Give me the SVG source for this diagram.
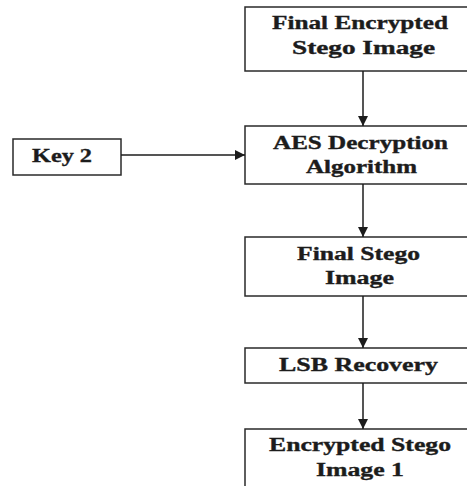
<svg xmlns="http://www.w3.org/2000/svg" width="467" height="486" viewBox="0 0 467 486">
  <style>
    .box { fill: #ffffff; stroke: #2a2a2a; stroke-width: 1.5; }
    .lbl { font-family: "Liberation Serif", "Times New Roman", serif; font-weight: bold; font-size: 18px; fill: #1c1c1c; stroke: #1c1c1c; stroke-width: 0.35; }
    .edge { stroke: #1c1c1c; stroke-width: 1.5; fill: none; marker-end: url(#head); }
  </style>
  <defs>
    <marker id="head" viewBox="0 0 10 10" refX="10" refY="5" markerWidth="10" markerHeight="10" markerUnits="userSpaceOnUse" orient="auto">
      <path d="M0,0 L10,5 L0,10 z" fill="#1c1c1c"/>
    </marker>
  </defs>
  <rect width="467" height="486" fill="#ffffff"/>

  <g id="final-encrypted-stego-image">
    <rect class="box" x="245" y="7" width="240" height="64"/>
    <text class="lbl" x="272" y="29" textLength="176" lengthAdjust="spacingAndGlyphs">Final Encrypted</text>
    <text class="lbl" x="292" y="54" textLength="143" lengthAdjust="spacingAndGlyphs">Stego Image</text>
  </g>

  <g id="key-2">
    <rect class="box" x="13" y="139" width="108" height="36"/>
    <text class="lbl" x="32" y="162" textLength="60" lengthAdjust="spacingAndGlyphs">Key 2</text>
  </g>

  <g id="aes-decryption">
    <rect class="box" x="245" y="126" width="240" height="58"/>
    <text class="lbl" x="273" y="149" textLength="175" lengthAdjust="spacingAndGlyphs">AES Decryption</text>
    <text class="lbl" x="306" y="173" textLength="111" lengthAdjust="spacingAndGlyphs">Algorithm</text>
  </g>

  <g id="final-stego-image">
    <rect class="box" x="245" y="237" width="240" height="59"/>
    <text class="lbl" x="297" y="260" textLength="123" lengthAdjust="spacingAndGlyphs">Final Stego</text>
    <text class="lbl" x="325" y="284" textLength="69" lengthAdjust="spacingAndGlyphs">Image</text>
  </g>

  <g id="lsb-recovery">
    <rect class="box" x="245" y="348" width="240" height="35"/>
    <text class="lbl" x="279" y="371" textLength="159" lengthAdjust="spacingAndGlyphs">LSB Recovery</text>
  </g>

  <g id="encrypted-stego-image-1">
    <rect class="box" x="245" y="429" width="240" height="70"/>
    <text class="lbl" x="269" y="451" textLength="182" lengthAdjust="spacingAndGlyphs">Encrypted Stego</text>
    <text class="lbl" x="316" y="476" textLength="88" lengthAdjust="spacingAndGlyphs">Image 1</text>
  </g>

  <g id="connectors">
    <line class="edge" x1="363" y1="71" x2="363" y2="126"/>
    <line class="edge" x1="121" y1="155" x2="245" y2="155"/>
    <line class="edge" x1="363" y1="184" x2="363" y2="237"/>
    <line class="edge" x1="363" y1="296" x2="363" y2="348"/>
    <line class="edge" x1="363" y1="383" x2="363" y2="429"/>
  </g>
</svg>
